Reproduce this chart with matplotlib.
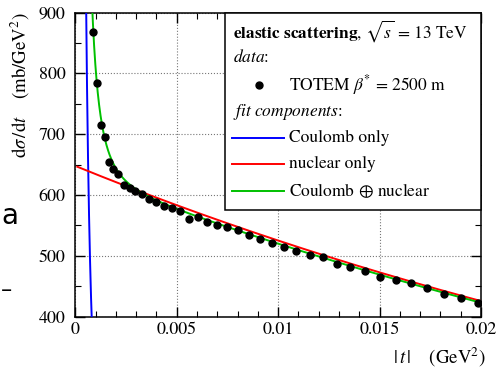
import numpy as np
import matplotlib
matplotlib.use("Agg")
import matplotlib.pyplot as plt
from matplotlib.patches import Rectangle
from matplotlib.lines import Line2D

plt.rcParams['font.family'] = 'STIXGeneral'
plt.rcParams['mathtext.fontset'] = 'stix'

# TOTEM beta* = 2500 m points
t_data = [0.00089, 0.00107, 0.00125, 0.00145, 0.00164, 0.00187, 0.00212, 0.00240,
          0.00268, 0.00296, 0.00329, 0.00363, 0.00398, 0.00435, 0.00475, 0.00516,
          0.00559, 0.00603, 0.00647, 0.00698, 0.00749, 0.00801, 0.00854, 0.00911,
          0.00969, 0.01030, 0.01090, 0.01155, 0.01220, 0.01288, 0.01354, 0.01430,
          0.01502, 0.01580, 0.01657, 0.01736, 0.01816, 0.01900, 0.01984]
dsdt_data = [869, 785, 716, 696, 655, 643, 634, 617, 611, 606, 601, 594, 589, 582,
             578, 574, 561, 564, 555, 551, 547, 543, 534, 527, 522, 515, 508, 501,
             498, 487, 482, 475, 465, 460, 455, 448, 437, 430, 423]

# fit parameters (estimated from the curves)
coulomb_a = 2.6e-4      # mb GeV^2
nuclear_a = 648.0       # mb/GeV^2 at t = 0
nuclear_b = 21.0        # GeV^-2
interference_k = 0.105

x_ticks = [0, 0.005, 0.01, 0.015, 0.02]
x_tick_labels = ['0', '0.005', '0.01', '0.015', '0.02']
y_ticks = [400, 500, 600, 700, 800, 900]

t = np.linspace(1e-4, 0.02, 2000)
coul = coulomb_a / t**2
nucl = nuclear_a * np.exp(-nuclear_b * t)
both = coul + nucl - 2 * interference_k * np.sqrt(coul * nucl)

W, H = 499, 370
fig = plt.figure(figsize=(W / 100, H / 100), dpi=100)
x0, x1, y0, y1 = 75.3, 481.0, 12.7, 316.7
ax = fig.add_axes([x0 / W, 1 - y1 / H, (x1 - x0) / W, (y1 - y0) / H])

ax.plot(t, coul, color='#0000ff', lw=1.4, zorder=3)
ax.plot(t, nucl, color='#ff0000', lw=1.4, zorder=3)
ax.plot(t, both, color='#00c000', lw=1.4, zorder=4)
ax.plot(t_data, dsdt_data, 'o', color='black', ms=5, zorder=5)

ax.set_xlim(0, 0.02)
ax.set_ylim(400, 900)
ax.set_xticks(x_ticks)
ax.set_xticklabels(x_tick_labels)
ax.set_yticks(y_ticks)
ax.set_xticks(np.arange(0, 0.02001, 0.001), minor=True)
ax.set_yticks(np.arange(400, 901, 50), minor=True)
ax.tick_params(which='both', direction='in', top=True, right=True, labelsize=13)
ax.tick_params(which='major', length=7, width=1)
ax.tick_params(which='minor', length=4, width=0.8)
ax.tick_params(axis='x', pad=4)
ax.tick_params(axis='y', pad=7)
ax.grid(True, which='major', ls=':', color='#777777', lw=0.8)
for s in ax.spines.values():
    s.set_linewidth(1.1)

ax.set_ylabel(r'd$\sigma\,$/d$t$    (mb/GeV$^2$)', fontsize=13.5, loc='top', labelpad=5)
ax.set_xlabel(r'$|\,t\,|$    (GeV$^2$)', fontsize=13.5)
ax.xaxis.label.set_va('center')
ax.xaxis.label.set_ha('right')
ax.xaxis.set_label_coords(1.012, -0.133)


# legend box drawn by hand, positions in pixels of the figure
def px(x, y):
    return (x - x0) / (x1 - x0), (y1 - y) / (y1 - y0)

lx0, ly0 = px(225, 210)
lx1, ly1 = px(481, 12.7)
ax.add_patch(Rectangle((lx0, ly0), lx1 - lx0, ly1 - ly0, transform=ax.transAxes,
                       facecolor='white', edgecolor='black', lw=1.1, zorder=6, clip_on=False))
fs = 12.5
rows = [
    (31, None, r'$\mathbf{elastic\ scattering}$, $\sqrt{s}$ = 13 TeV', 233),
    (58, None, r'$\mathit{data}$:', 233),
    (85, 'dot', r'TOTEM $\beta^{*}$ = 2500 m', 289),
    (112, None, r'$\mathit{fit\ components}$:', 233),
    (138, '#0000ff', 'Coulomb only', 289),
    (164, '#ff0000', 'nuclear only', 289),
    (191, '#00c000', r'Coulomb $\oplus$ nuclear', 289),
]
for yy, handle, label, tx in rows:
    ax.text(*px(tx, yy), label, transform=ax.transAxes, fontsize=fs,
            va='center', ha='left', zorder=7)
    if handle == 'dot':
        ax.add_line(Line2D([px(259.3, yy)[0]], [px(259.3, yy)[1]], marker='o', color='black',
                           ms=5, transform=ax.transAxes, zorder=7))
    elif handle is not None:
        ax.add_line(Line2D([px(232, yy)[0], px(284, yy)[0]], [px(0, yy)[1]] * 2,
                           color=handle, lw=1.4, transform=ax.transAxes, zorder=7))

# fragments of neighbouring text at the left edge
fig.text(1 / W, 1 - 216 / H, 'a', fontsize=20, family='DejaVu Sans', va='center', ha='left')
fig.text(1 / W, 1 - 290 / H, '\u2013', fontsize=16, family='DejaVu Sans', va='center', ha='left')

fig.savefig('out.png', dpi=100)
